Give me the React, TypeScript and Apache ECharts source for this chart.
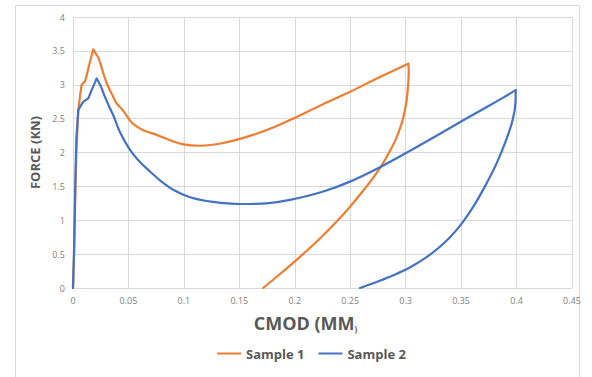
import React, { useEffect, useRef } from "react";
import * as echarts from "echarts";

const xTicks = { min: 0, max: 0.45, interval: 0.05 };
const yTicks = { min: 0, max: 4, interval: 0.5 };
const seriesNames = ["Sample 1", "Sample 2"];

// Sample 1: initial rise to peak
const s1RiseX = [0, 0.001, 0.002, 0.003, 0.0048, 0.0065, 0.0078, 0.0108, 0.0125, 0.0153, 0.0183];
const s1RiseY = [0, 0.5, 1.3, 2.0, 2.63, 2.85, 3.0, 3.05, 3.15, 3.34, 3.52];
// Sample 1: post-peak softening and reloading
const s1LoadX = [0.0183, 0.0205, 0.0228, 0.025, 0.0273, 0.031, 0.0363, 0.0395, 0.0424, 0.046, 0.0514, 0.0544, 0.0634, 0.0755, 0.0875, 0.0995, 0.1145, 0.1355, 0.1566, 0.1776, 0.1957, 0.225, 0.2504, 0.275, 0.3024];
const s1LoadY = [3.52, 3.46, 3.4, 3.3, 3.17, 3.0, 2.82, 2.72, 2.67, 2.6, 2.47, 2.42, 2.33, 2.26, 2.18, 2.12, 2.1, 2.14, 2.23, 2.35, 2.48, 2.71, 2.9, 3.1, 3.31];
// Sample 1: unloading
const s1UnloadX = [0.3024, 0.3028, 0.3022, 0.3009, 0.299, 0.2964, 0.291, 0.286, 0.2784, 0.2708, 0.2618, 0.2498, 0.2378, 0.2227, 0.2047, 0.187, 0.1715];
const s1UnloadY = [3.31, 3.2, 3.0, 2.77, 2.6, 2.43, 2.19, 2.03, 1.81, 1.63, 1.44, 1.2, 0.98, 0.73, 0.46, 0.21, 0];

// Sample 2: initial rise to peak
const s2RiseX = [0, 0.001, 0.002, 0.003, 0.0048, 0.0093, 0.0138, 0.0168, 0.0213];
const s2RiseY = [0, 0.6, 1.5, 2.2, 2.63, 2.75, 2.8, 2.92, 3.09];
// Sample 2: post-peak softening and reloading
const s2LoadX = [0.0213, 0.0235, 0.0258, 0.0288, 0.0334, 0.0363, 0.0424, 0.0514, 0.0604, 0.0694, 0.0784, 0.0904, 0.1055, 0.1265, 0.1506, 0.1747, 0.1957, 0.225, 0.2498, 0.2777, 0.31, 0.3535, 0.388, 0.3992];
const s2LoadY = [3.09, 3.03, 2.95, 2.82, 2.65, 2.55, 2.3, 2.04, 1.86, 1.72, 1.59, 1.45, 1.34, 1.27, 1.24, 1.25, 1.3, 1.42, 1.57, 1.79, 2.08, 2.49, 2.81, 2.92];
// Sample 2: unloading
const s2UnloadX = [0.3992, 0.399, 0.3965, 0.3905, 0.382, 0.3715, 0.361, 0.3505, 0.34, 0.3295, 0.3175, 0.3045, 0.2905, 0.2755, 0.2588];
const s2UnloadY = [2.92, 2.73, 2.48, 2.18, 1.84, 1.5, 1.2, 0.95, 0.75, 0.59, 0.44, 0.31, 0.2, 0.1, 0];

const colors = ["#ED7D31", "#4472C4"];
const FONT = "'Open Sans', 'Noto Sans', sans-serif";

function pairs(xs: number[], ys: number[]) {
  return xs.map((x, i) => [x, ys[i]]);
}

function seg(name: string, color: string, xs: number[], ys: number[], smooth: number | boolean) {
  return {
    name,
    type: "line",
    data: pairs(xs, ys),
    showSymbol: false,
    symbol: "none",
    smooth,
    lineStyle: { color, width: 2.2, cap: "round", join: "round" },
    itemStyle: { color },
  };
}

export default function App() {
  const ref = useRef<HTMLDivElement>(null);
  useEffect(() => {
    if (!ref.current) return;
    const chart = echarts.init(ref.current, undefined, { renderer: "svg" });
    chart.setOption({
      animation: false,
      textStyle: { fontFamily: FONT },
      graphic: [
        {
          type: "rect",
          shape: { x: 15.5, y: 5.5, width: 564, height: 400 },
          style: { fill: "none", stroke: "#d9d9d9", lineWidth: 1 },
          silent: true,
        },
      ],
      grid: { left: 73, top: 17, right: 20, bottom: 89, containLabel: false },
      legend: {
        data: seriesNames,
        bottom: 12,
        left: 212,
        icon: "rect",
        itemWidth: 24,
        itemHeight: 2,
        itemGap: 14,
        textStyle: { color: "#595959", fontSize: 13, fontWeight: "bold", fontFamily: FONT },
      },
      xAxis: {
        type: "value",
        min: xTicks.min,
        max: xTicks.max,
        interval: xTicks.interval,
        name: "CMOD (MM{s|)}",
        nameLocation: "middle",
        nameGap: 26,
        nameTextStyle: {
          color: "#595959",
          fontSize: 18,
          fontWeight: "bold",
          fontFamily: FONT,
          padding: [0, 34, 0, 0],
          rich: { s: { fontSize: 8, color: "#595959", fontFamily: FONT, verticalAlign: "bottom" } },
        },
        axisLine: { show: false },
        axisTick: { show: false },
        axisLabel: { color: "#7f7f7f", fontSize: 9, margin: 8 },
        splitLine: { show: true, lineStyle: { color: "#d9d9d9", width: 1 } },
      },
      yAxis: {
        type: "value",
        min: yTicks.min,
        max: yTicks.max,
        interval: yTicks.interval,
        name: "FORCE (KN)",
        nameLocation: "middle",
        nameGap: 24,
        nameTextStyle: { color: "#595959", fontSize: 13, fontWeight: "bold", fontFamily: FONT },
        axisLine: { show: false },
        axisTick: { show: false },
        axisLabel: { color: "#7f7f7f", fontSize: 9, margin: 8 },
        splitLine: { show: true, lineStyle: { color: "#d9d9d9", width: 1 } },
      },
      series: [
        seg(seriesNames[0], colors[0], s1RiseX, s1RiseY, false),
        seg(seriesNames[0], colors[0], s1LoadX, s1LoadY, 0.3),
        seg(seriesNames[0], colors[0], s1UnloadX, s1UnloadY, 0.3),
        seg(seriesNames[1], colors[1], s2RiseX, s2RiseY, false),
        seg(seriesNames[1], colors[1], s2LoadX, s2LoadY, 0.3),
        seg(seriesNames[1], colors[1], s2UnloadX, s2UnloadY, 0.3),
      ],
    });
    return () => chart.dispose();
  }, []);
  return <div ref={ref} style={{ width: 592, height: 377, position: "absolute", left: 0, top: 0 }} />;
}
